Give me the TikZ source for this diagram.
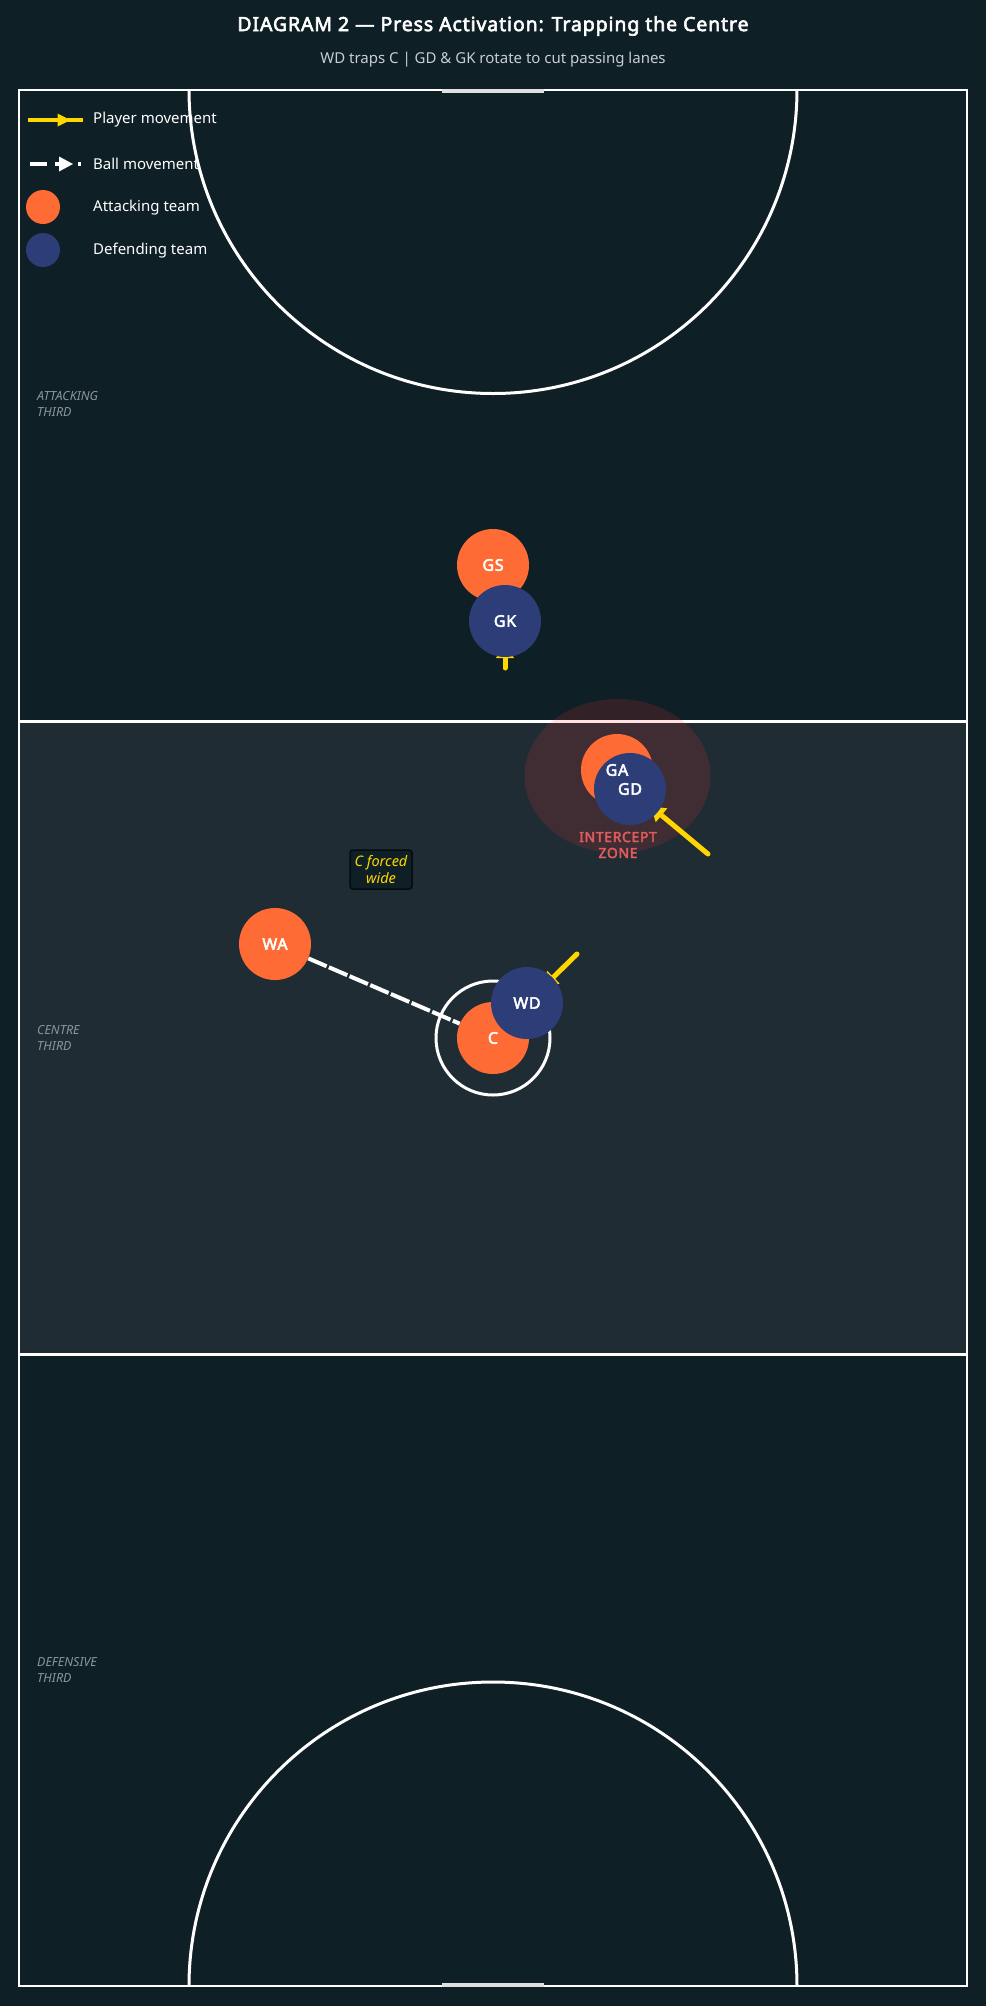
\documentclass[tikz,border=0pt]{standalone}
\usepackage{fontspec}
\setmainfont{Noto Sans}
\newfontfamily\bsans{Noto Sans}[FakeBold=3,LetterSpace=4.5]
\usetikzlibrary{arrows.meta}
\pgfdeclarelayer{back}
\pgfsetlayers{back,main}
\definecolor{bg}{HTML}{0F1F26}
\definecolor{midbg}{HTML}{1F2C33}
\definecolor{att}{HTML}{FF6B35}
\definecolor{dfn}{HTML}{2C3D78}
\definecolor{mv}{HTML}{FFD700}
\definecolor{zone}{HTML}{FA3933}
\definecolor{zonetxt}{HTML}{E05C5C}
\definecolor{lbl}{HTML}{8A969C}
\definecolor{subt}{HTML}{C8CDD0}
\definecolor{boxedge}{HTML}{050B0E}
\begin{document}
\begin{tikzpicture}[x=1pt,y=-1pt,
  courtline/.style={draw=white,line width=3pt},
  attc/.style={circle,fill=att,minimum size=72pt,inner sep=0pt},
  dfnc/.style={circle,fill=dfn,minimum size=72pt,inner sep=0pt},
  plabel/.style={text=white,font=\bsans\fontsize{16}{18}\selectfont,inner sep=0pt},
  pmove/.style={draw=mv,line width=5pt,line cap=round,shorten >=23pt,-{Triangle[length=14pt,width=17pt]}},
  ballmove/.style={draw=white,line width=4pt,dash pattern=on 20pt off 2.5pt},
  thirdlbl/.style={anchor=west,align=left,text=lbl,inner sep=0pt,font=\fontsize{12.5}{16}\selectfont\itshape},
  legtxt/.style={anchor=west,text=white,inner sep=0pt,font=\fontsize{15}{17}\selectfont}]
\useasboundingbox (0,0) rectangle (986,2006);

% players (circles)
\node[attc] (GS) at (493,565) {};
\node[attc] (GA) at (617,770) {};
\node[attc] (WA) at (275,944) {};
\node[attc] (C) at (493,1038) {};
\node[dfnc] (GK) at (505,621) {};
\node[dfnc] (GD) at (630,789) {};
\node[dfnc] (WD) at (527,1003) {};

\begin{pgfonlayer}{back}
\fill[bg] (0,0) rectangle (986,2006);
\fill[midbg] (19,721) rectangle (967,1354);
\draw[white,line width=2pt] (19,89.5) rectangle (967,1986);
\draw[courtline] (19,721) -- (967,721);
\draw[courtline] (19,1354) -- (967,1354);
\draw[courtline] (189,89.5) arc[start angle=180,end angle=0,radius=304];
\draw[courtline] (189,1986) arc[start angle=180,end angle=360,radius=304];
\fill[white!88!black] (442,89) rectangle (544,93);
\fill[white!88!black] (442,1982.5) rectangle (544,1986.5);
\node[circle,draw=white,line width=3pt,minimum size=114pt,inner sep=0pt] (centrecircle) at (493,1038) {};
\fill[zone,fill opacity=0.15] (617.5,776) ellipse[x radius=93,y radius=77];
% movement
\coordinate (gkFrom) at (505,668);
\coordinate (gdFrom) at (708,854);
\coordinate (wdFrom) at (577,954);
\draw[pmove] (gkFrom) -- (GK.center);
\draw[pmove,shorten >=27pt] (gdFrom) -- (GD.center);
\draw[pmove] (wdFrom) -- (WD.center);
\draw[ballmove] (WA) -- (C);
\end{pgfonlayer}

% player labels
\node[plabel] (GSl) at (GS) {GS};
\node[plabel] (GKl) at (GK) {GK};
\node[plabel] (GAl) at (GA) {GA};
\node[plabel] (GDl) at (GD) {GD};
\node[plabel] (WAl) at (WA) {WA};
\node[plabel] (Cl) at (C) {C};
\node[plabel] (WDl) at (WD) {WD};

% intercept zone text
\node[text=zonetxt,align=center,inner sep=0pt,font=\bsans\fontsize{14}{16}\selectfont] (zonelbl) at (618,845) {INTERCEPT\\ZONE};

% C forced wide
\node[draw=boxedge,line width=1.5pt,fill=bg,rounded corners=3pt,minimum width=62pt,minimum height=39pt,inner sep=0pt,align=center,text=mv,font=\fontsize{14.5}{17}\selectfont\itshape] (forced) at (381,869.5) {C forced\\wide};

% third labels
\node[thirdlbl] (attlbl) at (37,404) {ATTACKING\\THIRD};
\node[thirdlbl] (cenlbl) at (37,1037.5) {CENTRE\\THIRD};
\node[thirdlbl] (deflbl) at (37,1670) {DEFENSIVE\\THIRD};

% title
\node[text=white,inner sep=0pt,font=\bsans\fontsize{19.5}{22}\selectfont] (title) at (493,26) {DIAGRAM 2 — Press Activation: Trapping the Centre};
\node[text=subt,inner sep=0pt,font=\fontsize{15}{17}\selectfont] (subtitle) at (493,60) {WD traps C | GD \& GK rotate to cut passing lanes};

% legend
\draw[mv,line width=4.5pt] (28,120) -- (83,120);
\fill[mv] (57.5,113.5) -- (70.5,120) -- (57.5,126.5) -- cycle;
\draw[white,line width=4pt] (30,164) -- (47,164);
\draw[white,line width=4pt] (55,164) -- (66,164);
\draw[white,line width=4pt] (78,164) -- (81,164);
\fill[white] (59,156.5) -- (73,164) -- (59,171.5) -- cycle;
\node[circle,fill=att,minimum size=34pt,inner sep=0pt] (legAtt) at (43,207) {};
\node[circle,fill=dfn,minimum size=34pt,inner sep=0pt] (legDef) at (43,250) {};
\node[legtxt] (legPM) at (93,120) {Player movement};
\node[legtxt] (legBM) at (93,164) {Ball movement};
\node[legtxt] (legAT) at (93,208) {Attacking team};
\node[legtxt] (legDT) at (93,251) {Defending team};
\end{tikzpicture}
\end{document}
